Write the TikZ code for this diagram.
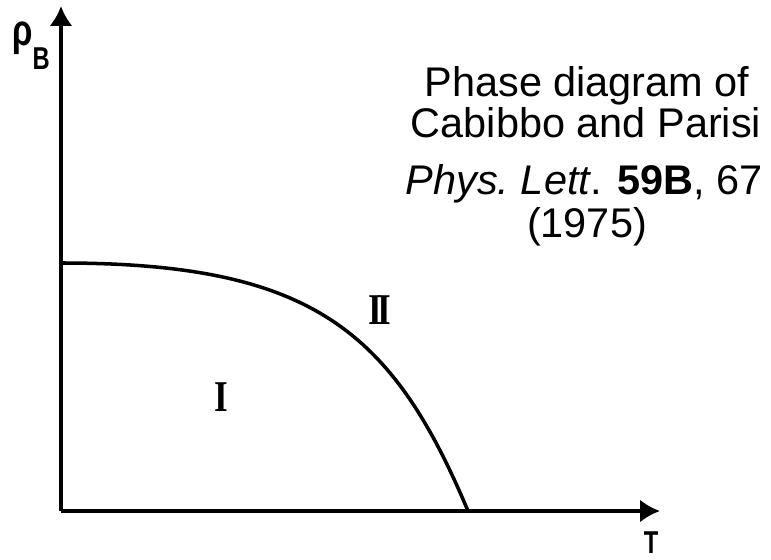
\documentclass[tikz,border=0pt]{standalone}
\usepackage{fontspec}
\setmainfont{Liberation Sans}
\setsansfont{Liberation Sans}
\newfontfamily\numeralfont{Liberation Serif}
\usetikzlibrary{arrows.meta}

\begin{document}
\begin{tikzpicture}[x=0.02cm, y=-0.02cm,
  axis/.style={line width=2pt, -{Latex[length=0.4cm, width=0.46cm]}},
  boundary/.style={line width=2pt},
  axislabel/.style={font=\bfseries\fontsize{18}{18}\selectfont, xscale=0.75, inner sep=0pt},
  citetext/.style={anchor=base, font=\fontsize{23.6}{24}\selectfont},
  phaselabel/.style={font=\numeralfont\bfseries\fontsize{25}{25}\selectfont, xscale=0.8}]
  \useasboundingbox (0, 0) rectangle (771, 560);

  % Axes
  \coordinate (origin) at (61, 511);
  \coordinate (rhotip) at (61, 6);
  \coordinate (Ttip) at (660, 511);
  \draw[axis] (origin) -- (rhotip);
  \draw[axis] (origin) -- (Ttip);
  \node[axislabel, anchor=base west] (rhoB) at (12, 46) {{\fontsize{25}{25}\selectfont ρ}\raisebox{-0.75em}{B}};
  \node[axislabel, anchor=north] (Tlabel) at (651, 531) {T};

  % Phase boundary
  \coordinate (bstart) at (61, 263);
  \coordinate (bend) at (468, 511);
  \draw[boundary] (bstart) .. controls (311, 263) and (392, 330) .. (bend);

  % Phases
  \node[phaselabel] (phaseI) at (221, 397) {I};
  \node[phaselabel] (phaseII) at (380, 310) {I\kern-0.12em I};

  % Caption text
  \node[citetext] (title1) at (587, 97) {Phase diagram of};
  \node[citetext] (title2) at (586, 138) {Cabibbo and Parisi};
  \node[citetext] (cite) at (584, 195) {\textit{Phys.\ Lett}. \textbf{59B}, 67};
  \node[citetext] (year) at (587, 238) {(1975)};
\end{tikzpicture}
\end{document}
